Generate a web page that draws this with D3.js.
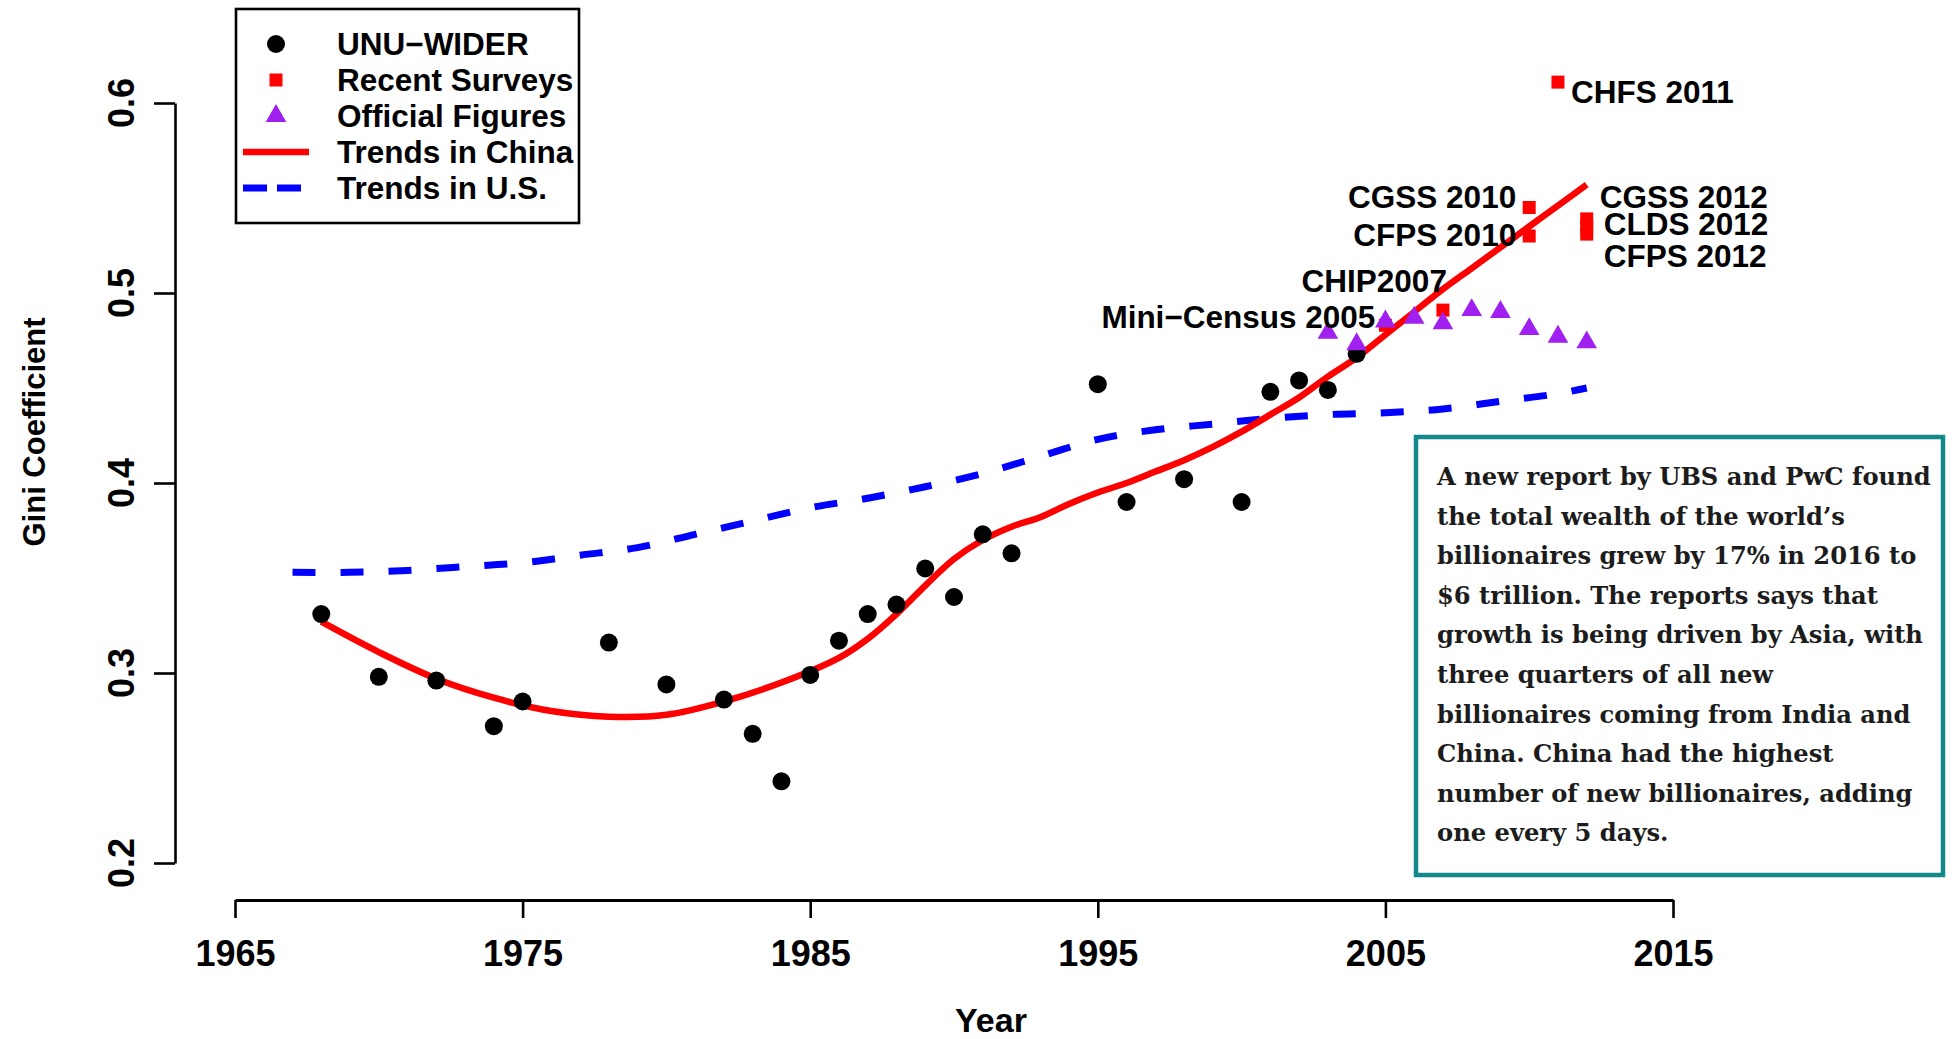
<!DOCTYPE html>
<html><head><meta charset="utf-8">
<script src="https://cdn.jsdelivr.net/npm/d3@7"></script>
<style>body{margin:0;background:#fff;} svg{display:block;}</style>
</head><body>
<svg id="chart" width="1957" height="1039"></svg>
<script>
// ---------------- data ----------------
const unuYears = [1968,1970,1972,1974,1975,1978,1980,1982,1983,1984,1985,1986,1987,1988,1989,1990,1991,1992,1995,1996,1998,2000,2001,2002,2003,2004];
const unuGini  = [0.331,0.298,0.296,0.272,0.285,0.316,0.294,0.286,0.268,0.243,0.299,0.317,0.331,0.336,0.355,0.340,0.373,0.363,0.452,0.390,0.402,0.390,0.448,0.454,0.449,0.468];

const surveyLabels = ["Mini\u2212Census 2005","CHIP2007","CGSS 2010","CFPS 2010","CHFS 2011","CGSS 2012","CLDS 2012","CFPS 2012"];
const surveyYears  = [2005,2007,2010,2010,2011,2012,2012,2012];
const surveyGini   = [0.483,0.491,0.545,0.530,0.611,0.539,0.535,0.531];

const officialYears = [2003,2004,2005,2006,2007,2008,2009,2010,2011,2012];
const officialGini  = [0.479,0.473,0.485,0.487,0.484,0.491,0.490,0.481,0.477,0.474];

const chinaYears = [1968,1970,1972,1974,1976,1978,1980,1982,1984,1986,1987,1988,1989,1990,1991,1992,1993,1994,1995,1996,1997,1998,1999,2000,2001,2002,2003,2004,2005,2006,2007,2008,2009,2010,2011,2012];
const chinaTrend = [0.327,0.311,0.297,0.287,0.280,0.277,0.278,0.285,0.295,0.308,0.318,0.331,0.346,0.360,0.370,0.377,0.382,0.389,0.395,0.400,0.406,0.412,0.419,0.427,0.436,0.445,0.456,0.466,0.478,0.490,0.502,0.513,0.524,0.535,0.546,0.557];

const usYears = [1967,1969,1971,1973,1975,1977,1979,1981,1983,1985,1987,1989,1991,1993,1995,1997,1999,2001,2003,2005,2007,2009,2011,2012];
const usTrend = [0.353,0.353,0.354,0.356,0.358,0.362,0.366,0.373,0.380,0.387,0.392,0.398,0.405,0.414,0.423,0.428,0.431,0.434,0.436,0.437,0.439,0.443,0.447,0.450];

const xTicks = [1965,1975,1985,1995,2005,2015];
const yTicks = [0.2,0.3,0.4,0.5,0.6];
const legendLabels = ["UNU\u2212WIDER","Recent Surveys","Official Figures","Trends in China","Trends in U.S."];
const xTitle = "Year";
const yTitle = "Gini Coefficient";
const noteLines = [
  "A new report by UBS and PwC found",
  "the total wealth of the world\u2019s",
  "billionaires grew by 17% in 2016 to",
  "$6 trillion. The reports says that",
  "growth is being driven by Asia, with",
  "three quarters of all new",
  "billionaires coming from India and",
  "China. China had the highest",
  "number of new billionaires, adding",
  "one every 5 days."
];

// label placement (pixel offsets from each survey marker)
const labelPlacement = [
  {anchor:"end",dx:-10,dy:3},
  {anchor:"end",dx:4,dy:-18},
  {anchor:"end",dx:-13,dy:0},
  {anchor:"end",dx:-13,dy:10},
  {anchor:"start",dx:13,dy:21},
  {anchor:"start",dx:13,dy:-11},
  {anchor:"start",dx:17,dy:8},
  {anchor:"start",dx:17,dy:33}
];

// ---------------- drawing ----------------
const svg = d3.select("#chart");
const FONT = "'Liberation Sans', Arial, Helvetica, sans-serif";
const RED = "#ff0000", BLUE = "#0000ff", PURPLE = "#a020f0";

const x = d3.scaleLinear().domain([1965,2015]).range([235,1673]);
const y = d3.scaleLinear().domain([0.2,0.6]).range([863,103]);

// Y axis
const yAxisG = svg.append("g").attr("transform","translate(175,0)")
  .call(d3.axisLeft(y).tickValues(yTicks).tickSize(21).tickSizeOuter(0).tickFormat(d3.format(".1f")));
yAxisG.select(".domain").attr("stroke","#000").attr("stroke-width",2.6);
yAxisG.selectAll(".tick line").attr("stroke","#000").attr("stroke-width",2.6);
yAxisG.selectAll(".tick text").remove();
svg.append("g").selectAll("text").data(yTicks).join("text")
  .attr("transform",d=>`translate(134,${y(d)}) rotate(-90)`)
  .attr("text-anchor","middle")
  .attr("font-family",FONT).attr("font-weight","bold").attr("font-size",36)
  .attr("fill","#000").text(d3.format(".1f"));

// X axis
const xAxisG = svg.append("g").attr("transform","translate(0,900)")
  .call(d3.axisBottom(x).tickValues(xTicks).tickSize(18).tickSizeOuter(0).tickFormat(d3.format("d")));
xAxisG.select(".domain").attr("stroke","#000").attr("stroke-width",3.2);
xAxisG.selectAll(".tick line").attr("stroke","#000").attr("stroke-width",2.6);
xAxisG.selectAll(".tick text").attr("y",66).attr("dy",0)
  .attr("font-family",FONT).attr("font-weight","bold").attr("font-size",36).attr("fill","#000");

// axis titles
svg.append("text").attr("x",991).attr("y",1032).attr("text-anchor","middle")
  .attr("font-family",FONT).attr("font-weight","bold").attr("font-size",34).text(xTitle);
svg.append("text").attr("transform","translate(45,432) rotate(-90)").attr("text-anchor","middle")
  .attr("font-family",FONT).attr("font-weight","bold").attr("font-size",31).text(yTitle);

// lines
const lineGen = d3.line().x(d=>x(d[0])).y(d=>y(d[1])).curve(d3.curveCatmullRom.alpha(0.5));
svg.append("path").datum(usYears.map((yr,i)=>[yr,usTrend[i]]))
  .attr("d",lineGen).attr("fill","none").attr("stroke",BLUE).attr("stroke-width",7)
  .attr("stroke-dasharray","23,25");
svg.append("path").datum(chinaYears.map((yr,i)=>[yr,chinaTrend[i]]))
  .attr("d",lineGen).attr("fill","none").attr("stroke",RED).attr("stroke-width",6.5);

// UNU-WIDER dots
svg.append("g").selectAll("circle").data(unuYears.map((yr,i)=>[yr,unuGini[i]])).join("circle")
  .attr("cx",d=>x(d[0])).attr("cy",d=>y(d[1])).attr("r",9).attr("fill","#000");

// Recent surveys squares
const sq = 13;
svg.append("g").selectAll("rect").data(surveyYears.map((yr,i)=>[yr,surveyGini[i]])).join("rect")
  .attr("x",d=>x(d[0])-sq/2).attr("y",d=>y(d[1])-sq/2).attr("width",sq).attr("height",sq).attr("fill",RED);

// Official triangles
const tri = d3.symbol().type(d3.symbolTriangle).size(185);
svg.append("g").selectAll("path").data(officialYears.map((yr,i)=>[yr,officialGini[i]])).join("path")
  .attr("transform",d=>`translate(${x(d[0])},${y(d[1])})`).attr("d",tri).attr("fill",PURPLE);

// survey labels
svg.append("g").selectAll("text").data(surveyLabels).join("text")
  .attr("x",(d,i)=>x(surveyYears[i])+labelPlacement[i].dx)
  .attr("y",(d,i)=>y(surveyGini[i])+labelPlacement[i].dy)
  .attr("text-anchor",(d,i)=>labelPlacement[i].anchor)
  .attr("font-family",FONT).attr("font-weight","bold").attr("font-size",31.5).attr("fill","#000")
  .text(d=>d);

// legend
const lg = svg.append("g");
lg.append("rect").attr("x",236).attr("y",9).attr("width",343).attr("height",214)
  .attr("fill","#fff").attr("stroke","#000").attr("stroke-width",2.6);
const rowY = i => 44 + i*36;
lg.append("circle").attr("cx",276).attr("cy",rowY(0)).attr("r",9).attr("fill","#000");
lg.append("rect").attr("x",276-sq/2).attr("y",rowY(1)-sq/2).attr("width",sq).attr("height",sq).attr("fill",RED);
lg.append("path").attr("transform",`translate(276,${rowY(2)})`).attr("d",tri).attr("fill",PURPLE);
lg.append("line").attr("x1",243).attr("x2",309).attr("y1",rowY(3)).attr("y2",rowY(3))
  .attr("stroke",RED).attr("stroke-width",6.5);
lg.append("line").attr("x1",243).attr("x2",309).attr("y1",rowY(4)).attr("y2",rowY(4))
  .attr("stroke",BLUE).attr("stroke-width",7).attr("stroke-dasharray","24,10");
lg.selectAll("text.lt").data(legendLabels).join("text").attr("class","lt")
  .attr("x",337).attr("y",(d,i)=>rowY(i)+11)
  .attr("font-family",FONT).attr("font-weight","bold").attr("font-size",31.5).attr("fill","#000")
  .text(d=>d);

// note box
const nb = svg.append("g");
nb.append("rect").attr("x",1416).attr("y",437).attr("width",527).attr("height",438)
  .attr("fill","#fff").attr("stroke","#15898a").attr("stroke-width",4.5);
nb.selectAll("text").data(noteLines).join("text")
  .attr("x",1437).attr("y",(d,i)=>485 + i*39.6)
  .attr("font-family","'DejaVu Serif', Georgia, serif").attr("font-weight","bold").attr("font-size",24.2)
  .attr("fill","#1c1c1c").text(d=>d);
</script>
</body></html>
